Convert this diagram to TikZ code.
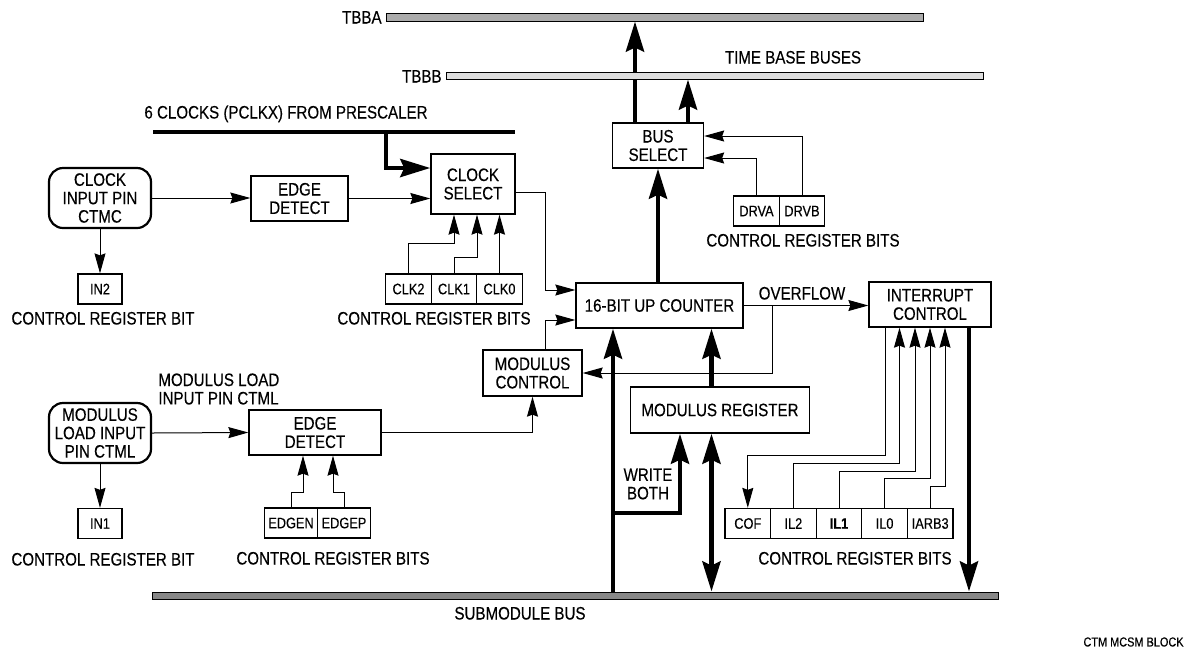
\documentclass[tikz,border=0pt]{standalone}
\usepackage{fontspec}
\setmainfont{Liberation Sans}[FakeStretch=0.84,FakeBold=0.3]
\usetikzlibrary{arrows.meta}

\begin{document}
\begin{tikzpicture}[x=0.5pt,y=-0.5pt,font=\fontsize{9}{9.2}\selectfont,
    blk/.style={draw,line width=0.65pt,inner sep=0pt,align=center},
    pin/.style={blk,rounded corners=7pt,line width=1.1pt,minimum width=51pt,minimum height=30pt},
    bit/.style={blk,minimum width=22.75pt,minimum height=15pt,font=\fontsize{7.6}{8}\selectfont},
    bus/.style={draw,line width=0.5pt,inner sep=0pt},
    lbl/.style={inner sep=0pt,text height=6.5pt,text depth=0pt},
    sig/.style={line width=0.5pt,>={Stealth[length=10pt,width=5.5pt,inset=1pt]},->},
    wide/.style={line width=2.4pt,>={Stealth[length=15pt,width=9pt,inset=2pt]},->}]
  \useasboundingbox (0,0) rectangle (1191,650);

  % clock path
  \node[pin] (ctmc) at (100,198) {CLOCK\\INPUT PIN\\CTMC};
  \node[blk,minimum width=48.5pt,minimum height=22.5pt] (edgea) at (299.5,198.5) {EDGE\\DETECT};
  \node[blk,minimum width=42pt,minimum height=30pt] (clksel) at (473,184) {CLOCK\\SELECT};
  \node[bit,minimum width=22pt] (intwo) at (100,289) {IN2};
  \node[bit] (clktwo) at (408.5,289) {CLK2};
  \node[bit] (clkone) at (454,289) {CLK1};
  \node[bit] (clkzero) at (499.5,289) {CLK0};
  \node[lbl] (intwolbl) at (103,318) {CONTROL REGISTER BIT};
  \node[lbl] (clklbl) at (434,318) {CONTROL REGISTER BITS};
  \node[lbl] (pclklbl) at (286,112) {6 CLOCKS (PCLKX) FROM PRESCALER};

  % counter and buses
  \node[blk,minimum width=83.5pt,minimum height=22.5pt] (counter) at (659.5,305.5) {16-BIT UP COUNTER};
  \node[blk,minimum width=45.5pt,minimum height=22.5pt] (bussel) at (658,145.5) {BUS\\SELECT};
  \node[bit] (drva) at (756.5,211) {DRVA};
  \node[bit] (drvb) at (802,211) {DRVB};
  \node[lbl] (drvlbl) at (803,240) {CONTROL REGISTER BITS};
  \node[blk,minimum width=61pt,minimum height=22.5pt] (intctl) at (930,304.5) {INTERRUPT\\CONTROL};
  \node[lbl] (ovflbl) at (802,293) {OVERFLOW};
  \node[blk,minimum width=49.5pt,minimum height=23pt] (modctl) at (532.5,373) {MODULUS\\CONTROL};
  \node[blk,minimum width=89.5pt,minimum height=23pt] (modreg) at (720,410) {MODULUS REGISTER};
  \node[align=center,inner sep=0pt] (wrlbl) at (648,484) {WRITE\\BOTH};

  % modulus load path
  \node[pin] (ctml) at (100,433) {MODULUS\\LOAD INPUT\\PIN CTML};
  \node[align=left,anchor=west,inner sep=0pt] (ctmllbl) at (158,389) {MODULUS LOAD\\INPUT PIN CTML};
  \node[blk,minimum width=66pt,minimum height=22.5pt] (edgeb) at (315,432.5) {EDGE\\DETECT};
  \node[bit,minimum width=26.5pt] (edgen) at (291,523) {EDGEN};
  \node[bit,minimum width=26.5pt] (edgep) at (344,523) {EDGEP};
  \node[bit,minimum width=22pt] (inone) at (100,523.5) {IN1};
  \node[lbl] (inonelbl) at (103,559) {CONTROL REGISTER BIT};
  \node[lbl] (edglbl) at (333,558) {CONTROL REGISTER BITS};

  % interrupt bits
  \node[bit,minimum width=22.8pt] (cof) at (747.8,523.5) {COF};
  \node[bit,minimum width=22.8pt] (iltwo) at (793.4,523.5) {IL2};
  \node[bit,minimum width=22.8pt] (ilone) at (839,523.5) {\textbf{IL1}};
  \node[bit,minimum width=22.8pt] (ilzero) at (884.6,523.5) {IL0};
  \node[bit,minimum width=22.8pt] (iarb) at (930.2,523.5) {IARB3};
  \node[lbl] (intlbl) at (855,558) {CONTROL REGISTER BITS};

  % thin signals
  \draw[sig] (ctmc.east) -- (ctmc.east -| edgea.west);
  \draw[sig] (edgea.east) -- (edgea.east -| clksel.west);
  \draw[sig] (ctmc) -- (intwo);
  \draw[sig] (clktwo.north) |- (454,243) -- (454,0 |- clksel.south);
  \draw[sig] (clkone.north) |- (477,257) -- (477,0 |- clksel.south);
  \draw[sig] (clkzero.north) -- (clkzero.north |- clksel.south);
  \draw[sig] (clksel.east |- 0,192) -| (545,290) -- (counter.west |- 0,290);
  \draw[sig] (modctl.north -| 545,0) |- (counter.west |- 0,320);
  \draw[sig] (counter.east) -- (counter.east -| intctl.west);
  \draw[sig] (counter.east -| 772,0) |- (modctl.east);
  \draw[sig] (drvb.north) |- (bussel.east |- 0,136);
  \draw[sig] (drva.north) |- (bussel.east |- 0,158);
  \draw[sig] (ctml.east) -- (edgeb.west);
  \draw[sig] (ctml) -- (inone);
  \draw[sig] (edgeb.east) -| (modctl.south);
  \draw[sig] (edgen.north) |- (303,492) -- (303,0 |- edgeb.south);
  \draw[sig] (edgep.north) |- (333,492) -- (333,0 |- edgeb.south);
  \draw[sig] (885,0 |- intctl.south) |- (cof.north |- 0,455) -- (cof.north);
  \draw[sig] (iltwo.north) |- (899.5,463) -- (899.5,0 |- intctl.south);
  \draw[sig] (ilone.north) |- (915,471) -- (915,0 |- intctl.south);
  \draw[sig] (ilzero.north) |- (930,478) -- (930,0 |- intctl.south);
  \draw[sig] (iarb.north) |- (945,486) -- (945,0 |- intctl.south);

  % wide paths
  \node[bus,fill=black!33,minimum width=268.5pt,minimum height=4pt] (tbba) at (654.5,17) {};
  \node[lbl,anchor=east] (tbbalbl) at (382,17) {TBBA};
  \draw[line width=2.4pt] (153,132) -- (515,132);
  \draw[wide] (386,132) |- (clksel.west |- 0,168);
  \draw[wide] (bussel.south |- counter.north) -- (bussel.south);
  \draw[wide] (bussel.north -| 635,0) -- (635,0 |- tbba.south);
  \node[bus,fill=black!13,minimum width=268.5pt,minimum height=3.5pt] (tbbb) at (714.5,75.5) {};
  \node[lbl,anchor=east] (tbbblbl) at (442,76) {TBBB};
  \node[lbl] (tblbl) at (793,57) {TIME BASE BUSES};
  \draw[wide] (bussel.north -| 688,0) -- (688,0 |- tbbb.south);
  \node[bus,fill=black!47,minimum width=423pt,minimum height=3.5pt] (sub) at (575,595.5) {};
  \node[lbl] (sublbl) at (520,613) {SUBMODULE BUS};
  \draw[wide] (613,0 |- sub.north) -- (613,0 |- counter.south);
  \draw[wide] (613,513) -| (680,0 |- modreg.south);
  \draw[wide,<->] (711.5,0 |- sub.north) -- (711.5,0 |- modreg.south);
  \draw[wide] (711.5,0 |- modreg.north) -- (711.5,0 |- counter.south);
  \draw[wide] (969,0 |- intctl.south) -- (969,0 |- sub.north);

  \node[anchor=east,inner sep=0pt,font=\fontsize{6.5}{7}\selectfont] (figid) at (1184,642) {CTM MCSM BLOCK};
\end{tikzpicture}
\end{document}
